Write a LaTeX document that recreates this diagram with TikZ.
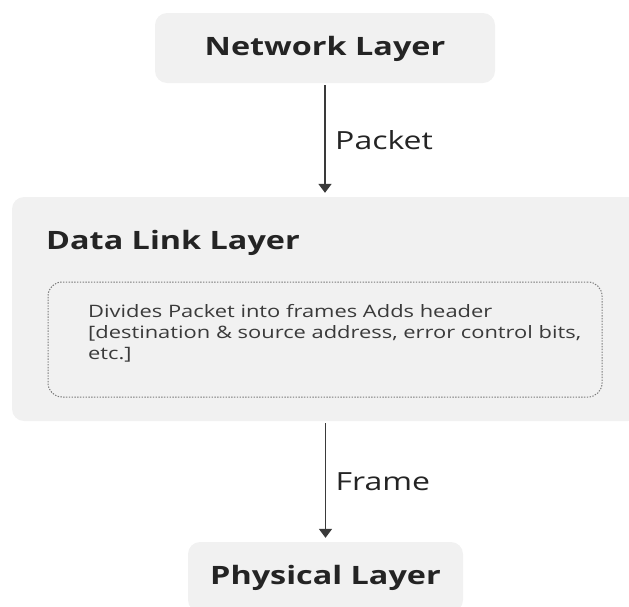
\documentclass[tikz,border=0pt]{standalone}
\usepackage{fontspec}
\setmainfont{Open Sans}[FakeStretch=1.28]
\usetikzlibrary{arrows.meta,positioning}
\definecolor{boxgray}{HTML}{F1F1F1}
\definecolor{ink}{HTML}{242424}
\definecolor{dotgray}{HTML}{7A7A7A}
\begin{document}
\begin{tikzpicture}[x=1pt,y=-1pt]
        \tikzstyle{layer}=[rounded corners=12pt,fill=boxgray,text=ink,inner sep=0pt,text height=19pt,text depth=5pt,font=\bfseries\fontsize{25.3}{30}\selectfont]
        \tikzstyle{flow}=[draw=ink!90,line width=1.8pt,-{Triangle[width=13pt,length=9pt]},shorten <=2pt,shorten >=4pt]
        \tikzstyle{tag}=[text=ink,font=\fontsize{25}{28}\selectfont]
        \useasboundingbox (0,0) rectangle (629,606);
       \begin{scope}
         \node [layer,minimum width=340pt,minimum height=70pt] (net) at (325,48) {Network Layer};
         \node [layer,minimum width=628pt,minimum height=224pt] (dll) at (326,309) {};
         \node [text=ink,inner sep=0pt,anchor=base west,font=\bfseries\fontsize{25.3}{30}\selectfont] (dlltitle) at (46,249) {Data Link Layer};
         \node [draw=dotgray,line width=1pt,dash pattern=on 1.4pt off 1.4pt,rounded corners=14pt,minimum width=554pt,minimum height=115pt] (desc) at (325,339.5) {};
         \node [text=ink!90,inner sep=0pt,anchor=north west,align=left,font=\fontsize{17.1}{21}\selectfont] (desctext) at (88,304) {Divides Packet into frames Adds header\\ {[}destination \& source address, error control bits,\\ etc.{]}};
         \node [layer,minimum width=275pt,minimum height=70pt] (phy) at (325.5,577) {Physical Layer};

         \draw[flow] (net) -- node[tag,right=6pt] {Packet} (net |- dll.north);
         \draw[flow] (dll.south -| phy) -- node[tag,right=6pt] {Frame} (phy);
        \end{scope}
      \end{tikzpicture}
\end{document}
